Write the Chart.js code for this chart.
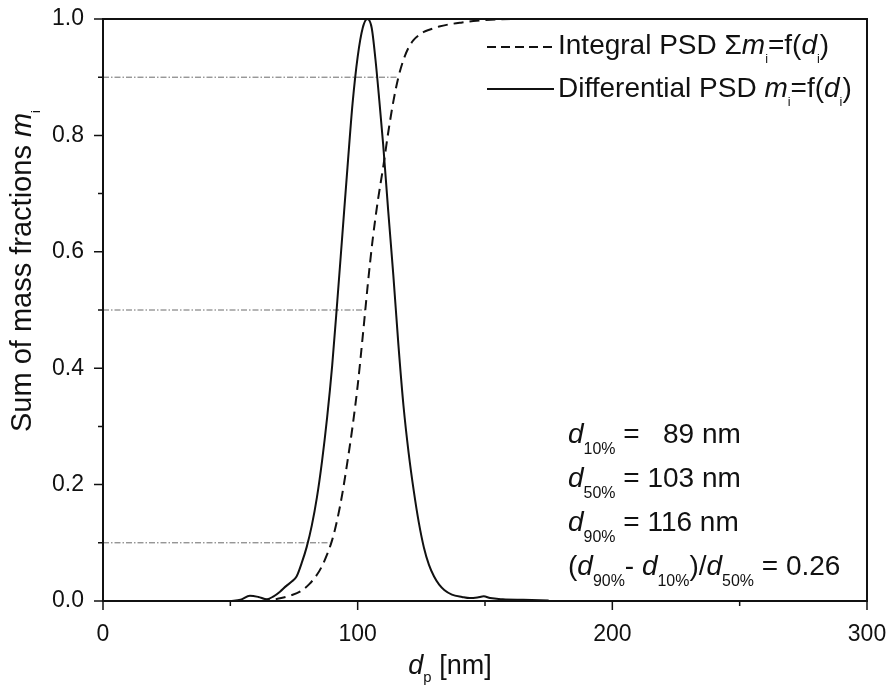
<!DOCTYPE html>
<html>
<head>
<meta charset="utf-8">
<script src="https://cdn.jsdelivr.net/npm/chart.js@4.4.0/dist/chart.umd.min.js"></script>
<style>
  html, body { margin: 0; padding: 0; background: #fff; }
  #wrap { width: 895px; height: 687px; }
</style>
</head>
<body>
<div id="wrap"><canvas id="psdChart"></canvas></div>
<script>
// differential PSD (solid)
const diffX = [50, 54, 57.7, 61, 64.4, 67, 69.5, 72, 74, 76,
               78, 80, 82, 84, 86, 88, 90, 92, 94, 96,
               98, 100, 102, 103.8, 105.5, 107, 108.5, 110, 112, 114,
               116, 118, 120, 122, 124, 126, 128, 130, 132, 134,
               137, 141, 144, 147, 149.5, 152, 157, 165, 175];
const diffY = [0, 0.002, 0.009, 0.007, 0.003, 0.008, 0.016, 0.026, 0.033, 0.042,
               0.065, 0.093, 0.13, 0.178, 0.24, 0.315, 0.405, 0.515, 0.63, 0.745,
               0.855, 0.935, 0.985, 1.0, 0.985, 0.93, 0.86, 0.785, 0.67, 0.56,
               0.44, 0.335, 0.255, 0.19, 0.135, 0.092, 0.062, 0.042, 0.028, 0.019,
               0.011, 0.007, 0.005, 0.006, 0.008, 0.005, 0.003, 0.002, 0.001];

// integral PSD (dashed)
const intX = [61.6, 66, 70, 74, 78, 81, 84, 86, 88, 90,
              92, 94, 96, 98, 100, 102, 103, 104, 106, 108,
              110, 112, 114, 116, 118, 120, 122, 124, 126, 128.4,
              132, 136.2, 141, 146.7, 155.9, 169];
const intY = [0, 0.002, 0.005, 0.01, 0.018, 0.029, 0.045, 0.06, 0.08, 0.105,
              0.14, 0.185, 0.24, 0.3, 0.37, 0.455, 0.5, 0.545, 0.625, 0.69,
              0.745, 0.805, 0.858, 0.9, 0.93, 0.951, 0.964, 0.972, 0.978, 0.982,
              0.987, 0.991, 0.994, 0.997, 0.9995, 1.0];

// characteristic diameters
const fractions = [0.1, 0.5, 0.9];
const dValues = [89, 103, 116];
const spanValue = 0.26;

const FONT = '"Liberation Sans", Arial, Helvetica, sans-serif';

function toPoints(xs, ys) {
  return xs.map((x, i) => ({ x: x, y: ys[i] }));
}

// text pieces: style '' normal, 'i' italic, 's' subscript
function setFont(ctx, st, size, subScale) {
  const sub = st.includes('s');
  const it = st.includes('i');
  ctx.font = (it ? 'italic ' : '') + (sub ? size * subScale : size) + 'px ' + FONT;
  return sub;
}

function richWidth(ctx, parts, size, subScale) {
  let w = 0;
  parts.forEach(([t, st]) => {
    setFont(ctx, st, size, subScale);
    w += ctx.measureText(t).width;
  });
  return w;
}

function drawRich(ctx, x, y, parts, size, subScale, subDrop) {
  let cx = x;
  parts.forEach(([t, st]) => {
    const sub = setFont(ctx, st, size, subScale);
    ctx.fillText(t, cx, sub ? y + subDrop : y);
    cx += ctx.measureText(t).width;
  });
  return cx;
}

const refLines = fractions.map((f, i) => ({
  data: [{ x: 0, y: f }, { x: dValues[i], y: f }],
  borderColor: '#6a6a6a',
  borderWidth: 1,
  borderDash: [6, 2, 1.5, 2],
  pointRadius: 0,
  showLine: true
}));

const decorations = {
  id: 'decorations',
  afterDraw(chart) {
    const { ctx, chartArea: a, scales: { x, y } } = chart;
    ctx.save();
    ctx.strokeStyle = '#111';
    ctx.fillStyle = '#111';

    // frame
    ctx.lineWidth = 2;
    ctx.strokeRect(a.left, a.top, a.right - a.left, a.bottom - a.top);

    // ticks, major and minor, outside
    ctx.lineWidth = 1.5;
    ctx.beginPath();
    for (let v = 0; v <= 300; v += 50) {
      const px = x.getPixelForValue(v);
      const len = v % 100 === 0 ? 9 : 5;
      ctx.moveTo(px, a.bottom);
      ctx.lineTo(px, a.bottom + len);
    }
    for (let i = 0; i <= 10; i++) {
      const py = y.getPixelForValue(i / 10);
      const len = i % 2 === 0 ? 9 : 5;
      ctx.moveTo(a.left, py);
      ctx.lineTo(a.left - len, py);
    }
    ctx.stroke();

    ctx.textBaseline = 'alphabetic';
    ctx.textAlign = 'left';

    // legend
    ctx.lineWidth = 1.8;
    ctx.setLineDash([9, 5]);
    ctx.beginPath();
    ctx.moveTo(487, 47); ctx.lineTo(554, 47);
    ctx.stroke();
    ctx.setLineDash([]);
    ctx.beginPath();
    ctx.moveTo(487, 89); ctx.lineTo(554, 89);
    ctx.stroke();
    drawRich(ctx, 558, 54, [['Integral PSD \u03A3', ''], ['m', 'i'], ['i', 's'], ['=f(', ''], ['d', 'i'], ['i', 's'], [')', '']], 28, 0.45, 9);
    drawRich(ctx, 558, 97, [['Differential PSD ', ''], ['m', 'i'], ['i', 's'], ['=f(', ''], ['d', 'i'], ['i', 's'], [')', '']], 28, 0.45, 9);

    // characteristic values
    const lx = 568, fs = 28, ss = 0.57, sd = 11;
    drawRich(ctx, lx, 443, [['d', 'i'], ['10%', 's'], [' =   ' + dValues[0] + ' nm', '']], fs, ss, sd);
    drawRich(ctx, lx, 487, [['d', 'i'], ['50%', 's'], [' = ' + dValues[1] + ' nm', '']], fs, ss, sd);
    drawRich(ctx, lx, 531, [['d', 'i'], ['90%', 's'], [' = ' + dValues[2] + ' nm', '']], fs, ss, sd);
    drawRich(ctx, lx, 575, [['(', ''], ['d', 'i'], ['90%', 's'], ['- ', ''], ['d', 'i'], ['10%', 's'], [')/', ''], ['d', 'i'], ['50%', 's'], [' = ' + spanValue.toFixed(2), '']], fs, ss, sd);

    // x axis title
    const xt = [['d', 'i'], ['p', 's'], [' [nm]', '']];
    const xw = richWidth(ctx, xt, 27, 0.55);
    drawRich(ctx, 450 - xw / 2, 674, xt, 27, 0.55, 8);

    // y axis title
    const yt = [['Sum of mass fractions ', ''], ['m', 'i'], ['i', 's']];
    const yw = richWidth(ctx, yt, 29, 0.45);
    ctx.translate(31, 271);
    ctx.rotate(-Math.PI / 2);
    drawRich(ctx, -yw / 2, 0, yt, 29, 0.45, 9);

    ctx.restore();
  }
};

const ctx = document.getElementById('psdChart').getContext('2d');

new Chart(ctx, {
  type: 'scatter',
  data: {
    datasets: [
      {
        label: 'Integral PSD',
        data: toPoints(intX, intY),
        showLine: true,
        borderColor: '#111',
        borderWidth: 2,
        borderDash: [10, 6],
        pointRadius: 0,
        cubicInterpolationMode: 'monotone'
      },
      {
        label: 'Differential PSD',
        data: toPoints(diffX, diffY),
        showLine: true,
        borderColor: '#111',
        borderWidth: 2,
        pointRadius: 0,
        cubicInterpolationMode: 'monotone'
      },
      ...refLines
    ]
  },
  options: {
    responsive: true,
    maintainAspectRatio: false,
    animation: false,
    layout: { padding: { top: 19, right: 28, left: 0, bottom: 0 } },
    plugins: {
      legend: { display: false },
      tooltip: { enabled: false }
    },
    scales: {
      x: {
        type: 'linear',
        min: 0,
        max: 300,
        grid: { display: false, drawTicks: false },
        border: { display: false },
        ticks: {
          stepSize: 100,
          color: '#111',
          padding: 20,
          font: { family: FONT, size: 23 }
        },
        afterFit(scale) {
          scale.height = 86;
          scale.paddingLeft = 0;
          scale.paddingRight = 0;
        }
      },
      y: {
        min: 0,
        max: 1,
        grid: { display: false, drawTicks: false },
        border: { display: false },
        ticks: {
          stepSize: 0.2,
          color: '#111',
          padding: 19,
          font: { family: FONT, size: 23 },
          callback: (v) => v.toFixed(1)
        },
        afterFit(scale) {
          scale.width = 103;
          scale.paddingTop = 0;
          scale.paddingBottom = 0;
        }
      }
    }
  },
  plugins: [decorations]
});
</script>
</body>
</html>
